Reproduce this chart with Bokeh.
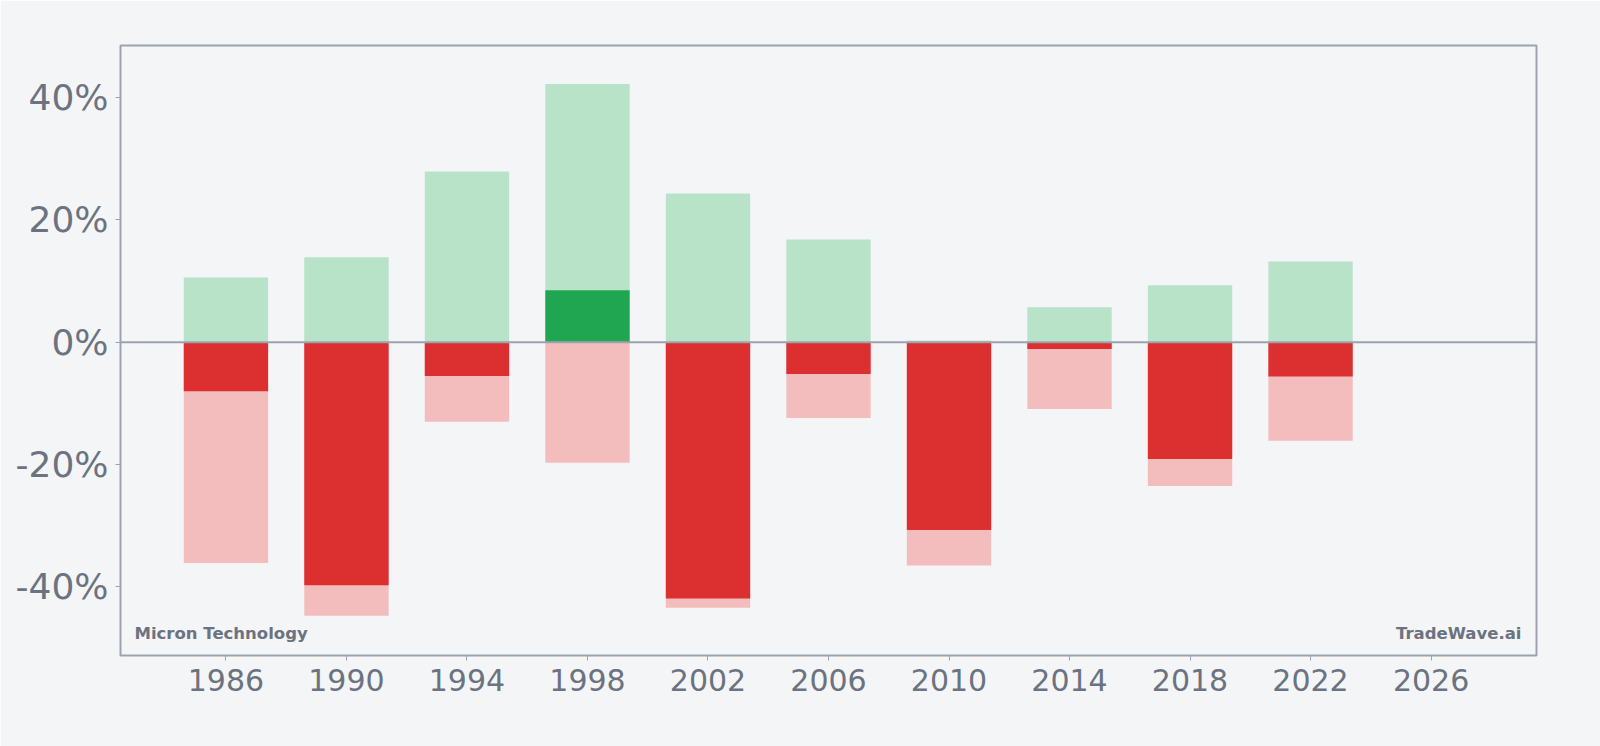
from bokeh.plotting import figure
from bokeh.models import Range1d, Span, Label, FixedTicker, CustomJSTickFormatter
from bokeh.embed import file_html
from bokeh.resources import INLINE

# Micron Technology: 4-year windows, best gain / worst drawdown / period return (%)
years = [1986, 1990, 1994, 1998, 2002, 2006, 2010, 2014, 2018, 2022]
max_gain = [10.6, 13.9, 27.9, 42.2, 24.3, 16.8, 0.3, 5.7, 9.3, 13.2]
max_drawdown = [-36.1, -44.7, -13.0, -19.7, -43.4, -12.4, -36.5, -10.9, -23.5, -16.1]
period_return = [-8.0, -39.7, -5.5, 8.5, -41.9, -5.2, -30.7, -1.1, -19.1, -5.6]

x_ticks = [1986, 1990, 1994, 1998, 2002, 2006, 2010, 2014, 2018, 2022, 2026]
y_ticks = [-40, -20, 0, 20, 40]

BG = "#f4f5f7"
GRAY = "#9ca3af"
TEXT = "#6b7280"
LIGHT_GREEN = "#b8e3c9"
DARK_GREEN = "#20a650"
LIGHT_RED = "#f3bdbd"
DARK_RED = "#dc3030"

p = figure(
    width=1600, height=746,
    output_backend="svg", toolbar_location=None,
    x_range=Range1d(1982.5, 2029.5), y_range=Range1d(-51.2, 48.5),
    min_border_left=120, min_border_right=64,
    min_border_top=45, min_border_bottom=91,
    background_fill_color=BG, border_fill_color=BG,
)
p.outline_line_color = GRAY
p.outline_line_width = 2
p.grid.visible = False

bar_w = 2.8
zeros = [0] * len(years)
p.vbar(x=years, bottom=zeros, top=max_gain, width=bar_w, color=LIGHT_GREEN, line_color=None)
p.vbar(x=years, bottom=zeros, top=max_drawdown, width=bar_w, color=LIGHT_RED, line_color=None)
ret_colors = [DARK_GREEN if r >= 0 else DARK_RED for r in period_return]
p.vbar(x=years, bottom=zeros, top=period_return, width=bar_w, color=ret_colors, line_color=None)

p.add_layout(Span(location=0, dimension="width", line_color=GRAY, line_width=2))

# axes
p.xaxis.ticker = FixedTicker(ticks=x_ticks)
p.yaxis.ticker = FixedTicker(ticks=y_ticks)
p.yaxis.formatter = CustomJSTickFormatter(code="return tick + '%';")
for ax in (p.xaxis[0], p.yaxis[0]):
    ax.axis_line_color = None
    ax.major_tick_line_color = GRAY
    ax.major_tick_line_width = 1
    ax.major_tick_in = 0
    ax.major_tick_out = 5
    ax.minor_tick_line_color = None
    ax.major_label_text_color = TEXT
    ax.major_label_text_font = "DejaVu Sans"
p.xaxis.major_label_text_font_size = "30px"
p.yaxis.major_label_text_font_size = "36px"
p.xaxis.major_label_standoff = 8
p.yaxis.major_label_standoff = 7

p.add_layout(Label(
    x=14, y=22, x_units="screen", y_units="screen",
    text="Micron Technology", text_font="DejaVu Sans", text_font_style="bold",
    text_font_size="16.5px", text_color=TEXT, text_baseline="alphabetic",
))
p.add_layout(Label(
    x=1416 - 15, y=22, x_units="screen", y_units="screen",
    text="TradeWave.ai", text_font="DejaVu Sans", text_font_style="bold",
    text_font_size="16.5px", text_color=TEXT, text_baseline="alphabetic", text_align="right",
))

open("out.html", "w").write(file_html(p, INLINE))
